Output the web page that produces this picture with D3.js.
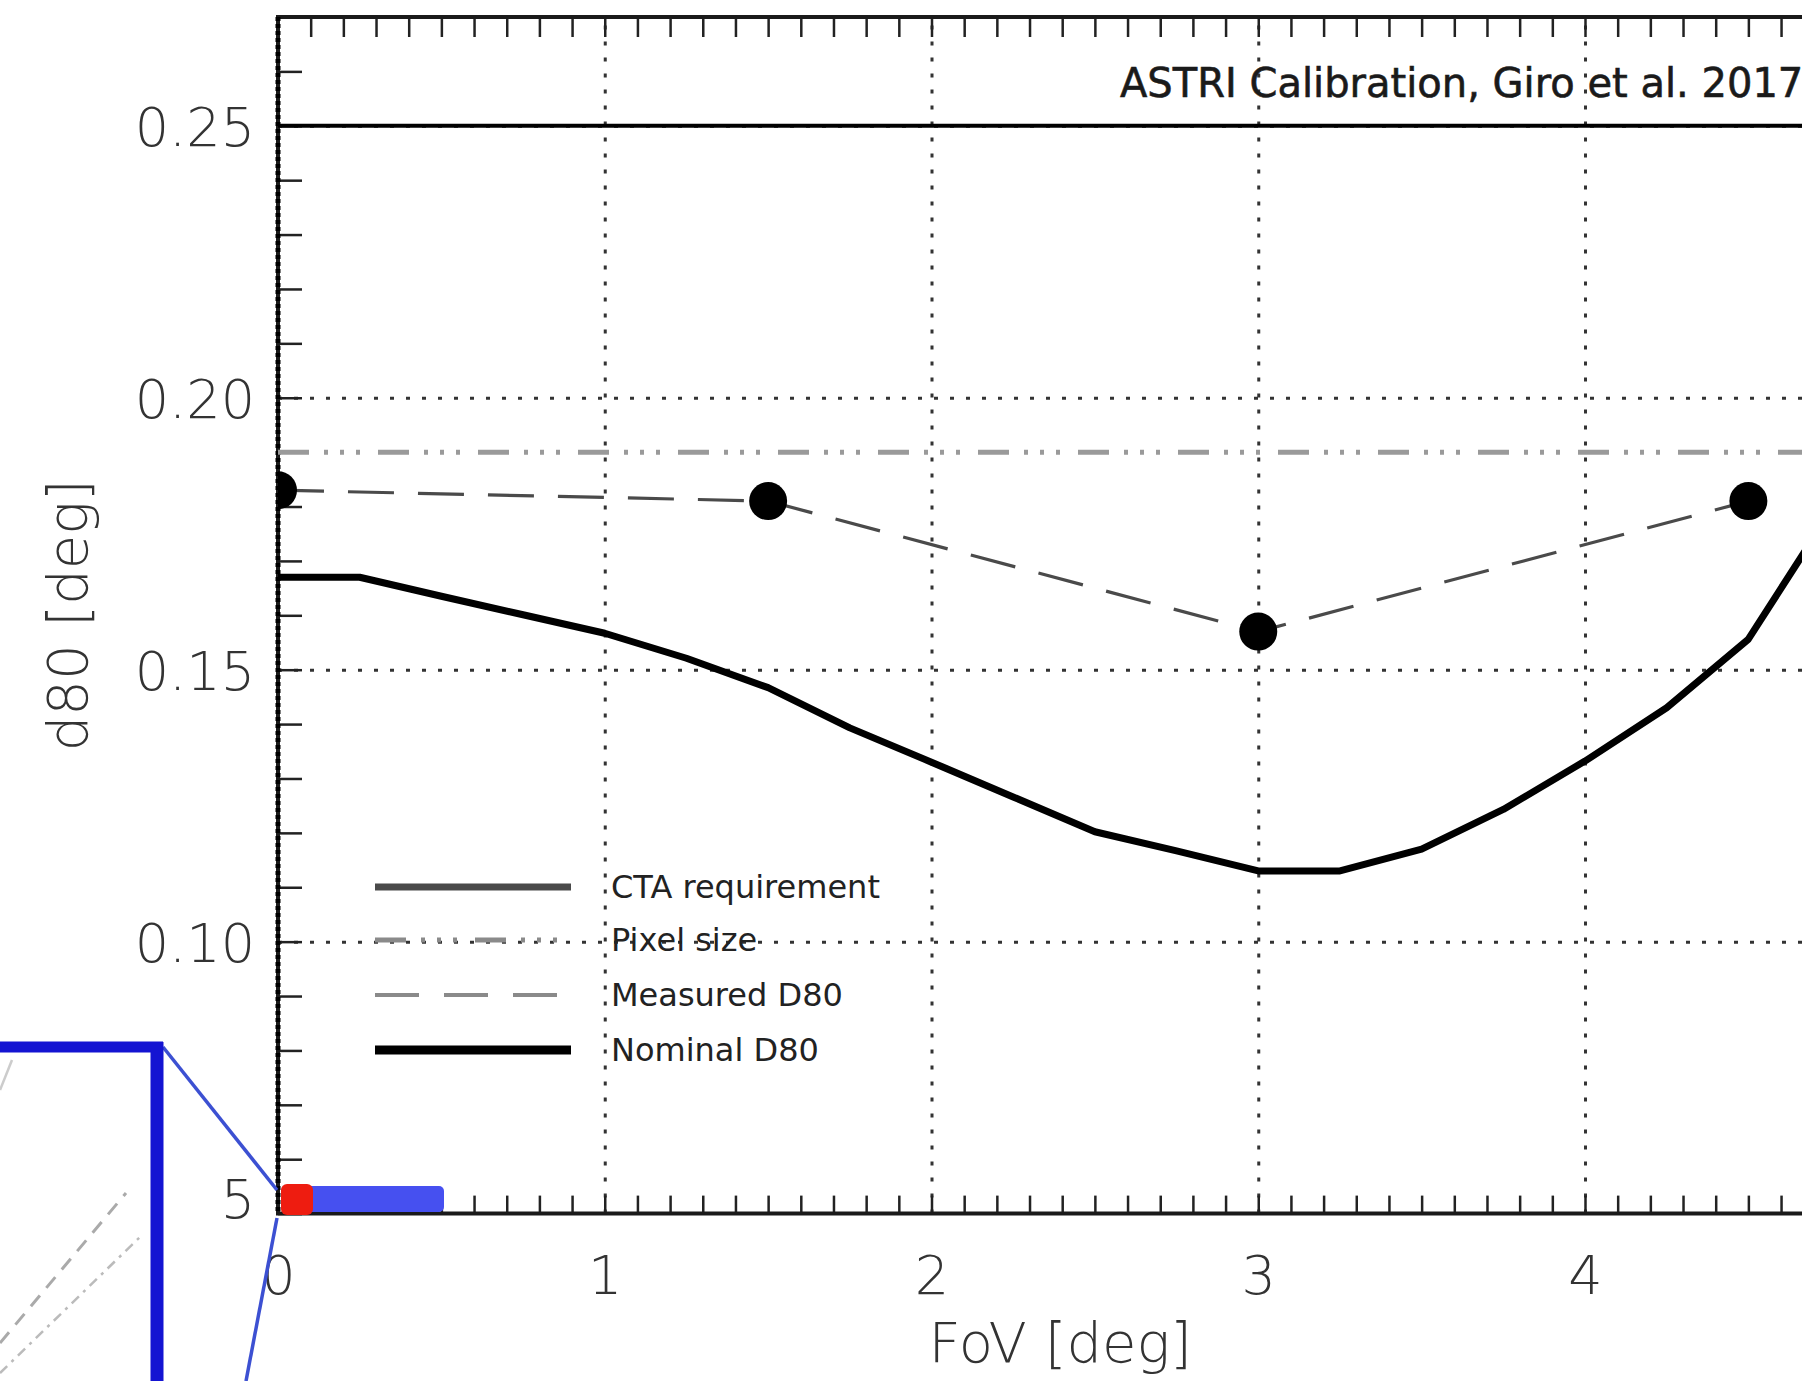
<!DOCTYPE html>
<html>
<head>
<meta charset="utf-8">
<script src="https://cdn.jsdelivr.net/npm/d3@7"></script>
<style>
  html, body { margin: 0; padding: 0; background: #fff; overflow: hidden; }
  svg { display: block; }
  text { font-family: "DejaVu Sans", "Liberation Sans", sans-serif; }
</style>
</head>
<body>
<svg id="chart" width="1802" height="1381"></svg>
<script>
// ---------------- data ----------------
const xMajorTicks = [0, 1, 2, 3, 4];
const yMajorTicks = [0.05, 0.10, 0.15, 0.20, 0.25];
const xGridTicks = [1, 2, 3, 4];
const yGridTicks = [0.10, 0.15, 0.20, 0.25];

const nominalFov = [0, 0.25, 0.5, 0.75, 1, 1.25, 1.5, 1.75, 2, 2.25, 2.5, 2.75, 3, 3.25, 3.5, 3.75, 4, 4.25, 4.5, 4.75];
const nominalD80 = [0.167, 0.167, 0.1635, 0.1601, 0.1567, 0.1521, 0.1467, 0.1393, 0.1330, 0.1266, 0.1202, 0.1167, 0.1130, 0.1130, 0.1170, 0.1243, 0.1332, 0.1430, 0.1556, 0.1790];

const measuredFov = [0, 1.5, 3, 4.5];
const measuredD80 = [0.183, 0.181, 0.157, 0.181];

const ctaRequirement = 0.25;
const pixelSize = 0.19;

const legendLabels = ["CTA requirement", "Pixel size", "Measured D80", "Nominal D80"];
const xTitle = "FoV [deg]";
const yTitle = "d80 [deg]";
const noteText = "ASTRI Calibration, Giro et al. 2017";

// ---------------- layout ----------------
const svg = d3.select("#chart");
const X0 = 278, UNIT = 326.75, XMAX = 4.8;
const x = d3.scaleLinear().domain([0, XMAX]).range([X0, X0 + XMAX * UNIT]);
const y = d3.scaleLinear().domain([0.05, 0.27]).range([1213.6, 17]);
const L = x(0), R = x(XMAX), T = y(0.27), B = y(0.05);

svg.append("defs").append("clipPath").attr("id", "plotclip")
  .append("rect").attr("x", L).attr("y", T).attr("width", R - L).attr("height", B - T);

const gridStyle = g => {
  g.select(".domain").remove();
  g.selectAll(".tick line").attr("stroke", "#333").attr("stroke-width", 3)
    .attr("stroke-dasharray", "4,12");
};

// grid (IDL ticklen=1 dotted majors)
svg.append("g").attr("transform", `translate(0,${B})`)
  .call(d3.axisBottom(x).tickValues(xGridTicks).tickSize(-(B - T)).tickFormat(""))
  .call(gridStyle);
svg.append("g").attr("transform", `translate(${L},0)`)
  .call(d3.axisLeft(y).tickValues(yGridTicks).tickSize(-(R - L)).tickFormat(""))
  .call(gridStyle);

// minor ticks
const minorX = d3.range(0, XMAX + 0.001, 0.1).map(v => +v.toFixed(2));
const minorY = d3.range(0.05, 0.2701, 0.01).map(v => +v.toFixed(3));
const minorStyle = g => {
  g.select(".domain").remove();
  g.selectAll(".tick line").attr("stroke", "#222").attr("stroke-width", 2.5);
};
svg.append("g").attr("transform", `translate(0,${T})`)
  .call(d3.axisTop(x).tickValues(minorX).tickSize(-20).tickFormat(""))
  .call(minorStyle);
svg.append("g").attr("transform", `translate(0,${B})`)
  .call(d3.axisBottom(x).tickValues(minorX).tickSize(-18).tickFormat(""))
  .call(minorStyle);
svg.append("g").attr("transform", `translate(${L},0)`)
  .call(d3.axisLeft(y).tickValues(minorY).tickSize(-24).tickFormat(""))
  .call(minorStyle);

// frame
const frame = svg.append("g").attr("stroke", "#1a1a1a").attr("stroke-width", 4).attr("fill", "none");
frame.append("line").attr("x1", L).attr("x2", L).attr("y1", T).attr("y2", B);
frame.append("line").attr("x1", L - 2).attr("x2", R).attr("y1", T).attr("y2", T);
frame.append("line").attr("x1", L - 2).attr("x2", R).attr("y1", B).attr("y2", B);
frame.append("line").attr("x1", L).attr("x2", L).attr("y1", T).attr("y2", B)
  .attr("stroke", "#000").attr("stroke-width", 5).attr("stroke-dasharray", "4,3");

// tick labels
const yLab = svg.append("g").attr("transform", `translate(${L},0)`)
  .call(d3.axisLeft(y).tickValues(yMajorTicks).tickSize(0).tickPadding(23).tickFormat(d3.format(".2f")));
yLab.select(".domain").remove();
yLab.selectAll("text").attr("dy", d => d === 0.05 ? 4 : 20).attr("font-size", 54).attr("fill", "#333")
  .attr("font-family", "DejaVu Sans").attr("font-weight", 200);

const xLab = svg.append("g").attr("transform", `translate(0,${B})`)
  .call(d3.axisBottom(x).tickValues(xMajorTicks).tickSize(0).tickFormat(d3.format("d")));
xLab.select(".domain").remove();
xLab.selectAll("text").attr("y", 0).attr("dy", 80).attr("font-size", 54).attr("fill", "#333")
  .attr("font-family", "DejaVu Sans").attr("font-weight", 200);

// axis titles
svg.append("text").attr("x", x(XMAX / 2) - 2).attr("y", 1362).attr("text-anchor", "middle")
  .attr("font-size", 56).attr("font-weight", 200).attr("fill", "#333").text(xTitle);
svg.append("text").attr("transform", `translate(87,${y(0.16)}) rotate(-90)`).attr("text-anchor", "middle")
  .attr("font-size", 56).attr("font-weight", 200).attr("fill", "#333").text(yTitle);

// data
const plot = svg.append("g").attr("clip-path", "url(#plotclip)");

plot.append("line").attr("x1", L).attr("x2", R).attr("y1", y(pixelSize)).attr("y2", y(pixelSize))
  .attr("stroke", "#9a9a9a").attr("stroke-width", 5)
  .attr("stroke-dasharray", "31,15,4,12,4,12,4,18");

plot.append("line").attr("x1", L).attr("x2", R).attr("y1", y(ctaRequirement)).attr("y2", y(ctaRequirement))
  .attr("stroke", "#000").attr("stroke-width", 4);

const nominal = nominalFov.map((f, i) => [f, nominalD80[i]]);
plot.append("path").datum(nominal)
  .attr("d", d3.line().x(d => x(d[0])).y(d => y(d[1])))
  .attr("fill", "none").attr("stroke", "#000").attr("stroke-width", 7).attr("stroke-linejoin", "round");

const measured = measuredFov.map((f, i) => [f, measuredD80[i]]);
plot.append("path").datum(measured)
  .attr("d", d3.line().x(d => x(d[0])).y(d => y(d[1])))
  .attr("fill", "none").attr("stroke", "#4a4a4a").attr("stroke-width", 3.2)
  .attr("stroke-dasharray", "46,24");
plot.selectAll("circle.m").data(measured).join("circle").attr("class", "m")
  .attr("cx", d => x(d[0])).attr("cy", d => y(d[1])).attr("r", 19).attr("fill", "#000");

// note
svg.append("text").attr("x", 1120).attr("y", 97).attr("font-size", 40).attr("fill", "#1a1a1a")
  .attr("font-family", "DejaVu Sans").attr("stroke", "#1a1a1a").attr("stroke-width", 0.6).text(noteText);

// legend
const legY = [887, 940, 995, 1050];
const legStyles = [
  {stroke: "#4a4a4a", w: 7, dash: null},
  {stroke: "#8a8a8a", w: 5, dash: "31,15,4,12,4,12,4,18"},
  {stroke: "#8a8a8a", w: 4, dash: "44,25"},
  {stroke: "#000", w: 9, dash: null}
];
const leg = svg.append("g");
legendLabels.forEach((lab, i) => {
  leg.append("line").attr("x1", 375).attr("x2", 571).attr("y1", legY[i]).attr("y2", legY[i])
    .attr("stroke", legStyles[i].stroke).attr("stroke-width", legStyles[i].w)
    .attr("stroke-dasharray", legStyles[i].dash);
  leg.append("text").attr("x", 611).attr("y", legY[i] + 11).attr("font-size", 32)
    .attr("fill", "#222").text(lab);
});

// slide overlay (inset zoom frame)
const ov = svg.append("g");
ov.append("rect").attr("x", 0).attr("y", 1020).attr("width", 219).attr("height", 361).attr("fill", "#fff");
ov.append("line").attr("x1", 0).attr("y1", 1343).attr("x2", 126).attr("y2", 1193)
  .attr("stroke", "#aaa").attr("stroke-width", 3).attr("stroke-dasharray", "14,10");
ov.append("line").attr("x1", 0).attr("y1", 1373).attr("x2", 140).attr("y2", 1237)
  .attr("stroke", "#bbb").attr("stroke-width", 2.5).attr("stroke-dasharray", "10,6,3,6");
ov.append("line").attr("x1", 0).attr("y1", 1090).attr("x2", 12).attr("y2", 1060)
  .attr("stroke", "#ccc").attr("stroke-width", 2.5);
ov.append("line").attr("x1", 163).attr("y1", 1047).attr("x2", 277).attr("y2", 1190)
  .attr("stroke", "#3c50d2").attr("stroke-width", 3.5);
ov.append("line").attr("x1", 277).attr("y1", 1218).attr("x2", 246).attr("y2", 1381)
  .attr("stroke", "#3c50d2").attr("stroke-width", 3.5);
ov.append("line").attr("x1", 0).attr("y1", 1047).attr("x2", 163).attr("y2", 1047)
  .attr("stroke", "#1414d2").attr("stroke-width", 11);
ov.append("line").attr("x1", 157).attr("y1", 1042).attr("x2", 157).attr("y2", 1381)
  .attr("stroke", "#1414d2").attr("stroke-width", 13);
ov.append("rect").attr("x", 281).attr("y", 1186).attr("width", 163).attr("height", 26).attr("rx", 5)
  .attr("fill", "#4650f0");
ov.append("rect").attr("x", 281).attr("y", 1184).attr("width", 32).attr("height", 31).attr("rx", 6)
  .attr("fill", "#ee1c10");
</script>
</body>
</html>
